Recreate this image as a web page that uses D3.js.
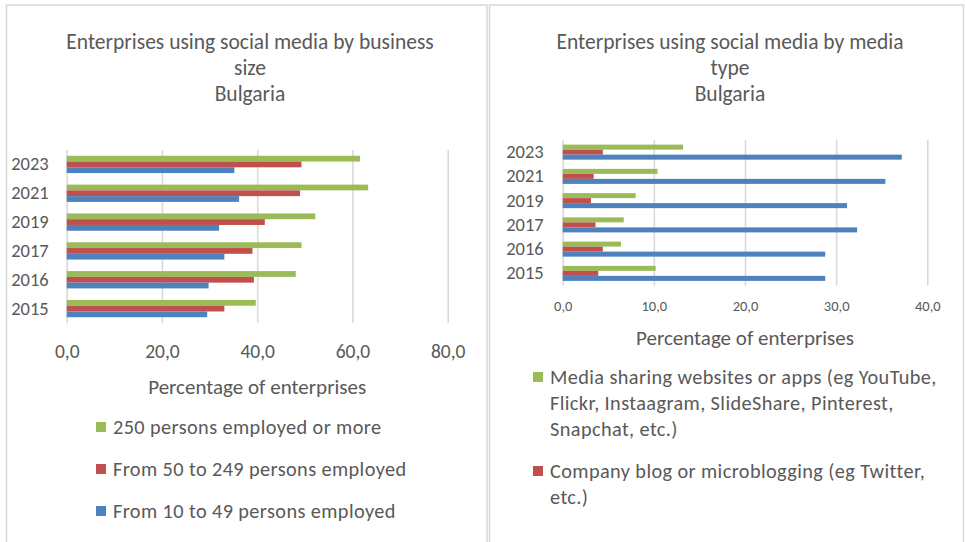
<!DOCTYPE html>
<html>
<head>
<meta charset="utf-8">
<script src="https://cdn.jsdelivr.net/npm/d3@7"></script>
<style>
  body { margin: 0; background: #fff; }
  text { font-family: Carlito, Calibri, Lato, sans-serif; fill: #595959; }
</style>
</head>
<body>
<svg id="chart" width="965" height="542"></svg>
<script>
// Survey years, top to bottom
const years = ["2023", "2021", "2019", "2017", "2016", "2015"];

// Share of enterprises using social media, by business size (%)
const sizeSeries = ["250 persons employed or more", "From 50 to 249 persons employed", "From 10 to 49 persons employed"];
const large  = [61.6, 63.3, 52.2, 49.3, 48.1, 39.7];
const medium = [49.3, 49.0, 41.6, 39.0, 39.3, 33.1];
const small  = [35.2, 36.2, 32.0, 33.1, 29.8, 29.5];

// Share of enterprises using social media, by media type (%)
const mediaSeries = [
  "Media sharing websites or apps (eg YouTube, Flickr, Instaagram, SlideShare, Pinterest, Snapchat, etc.)",
  "Company blog or microblogging (eg Twitter, etc.)"
];
const mediaSharing   = [13.2, 10.4, 8.0, 6.7, 6.4, 10.2];
const blogs          = [4.4, 3.4, 3.1, 3.6, 4.4, 3.9];
const socialNetworks = [37.2, 35.4, 31.2, 32.3, 28.8, 28.8];

const leftTicks  = [0, 20, 40, 60, 80];
const rightTicks = [0, 10, 20, 30, 40];

const colors = ["#9BBB59", "#C0504D", "#4F81BD"];
const fmt = v => d3.format(".1f")(v).replace(".", ",");

const svg = d3.select("#chart");
svg.append("rect").attr("width", 965).attr("height", 542).attr("fill", "#fff");

// panel frames
svg.append("rect").attr("x", 6.5).attr("y", 5).attr("width", 480.5).attr("height", 560)
  .attr("fill", "none").attr("stroke", "#d9d9d9").attr("stroke-width", 1.6);
svg.append("rect").attr("x", 489.5).attr("y", 5).attr("width", 474).attr("height", 560)
  .attr("fill", "none").attr("stroke", "#d9d9d9").attr("stroke-width", 1.6);

function drawPanel(cfg) {
  const g = svg.append("g");

  // title
  g.append("text")
    .attr("x", cfg.titleX).attr("y", 41)
    .attr("text-anchor", "middle")
    .style("font-size", "21.5px")
    .selectAll("tspan").data(cfg.title).join("tspan")
    .attr("x", cfg.titleX)
    .attr("dy", (d, i) => i === 0 ? "0.35em" : 26)
    .text(d => d);

  const x = d3.scaleLinear().domain(cfg.domain).range([cfg.left, cfg.right]);
  const y = d3.scaleBand().domain(years).range([cfg.top, cfg.bottom])
    .paddingInner(cfg.padInner).paddingOuter(cfg.padInner / 2);
  const inner = d3.scaleBand().domain(d3.range(cfg.series.length)).range([0, y.bandwidth()]);

  // gridlines
  const grid = g.append("g").attr("transform", `translate(0,${cfg.bottom})`)
    .call(d3.axisBottom(x).tickValues(cfg.ticks).tickSize(-(cfg.bottom - cfg.top)).tickFormat(""));
  grid.select(".domain").remove();
  grid.selectAll("line").attr("stroke", "#d9d9d9").attr("stroke-width", 1.6);

  // bars
  cfg.series.forEach((vals, si) => {
    g.append("g").selectAll("rect").data(vals).join("rect")
      .attr("x", x(0))
      .attr("y", (d, i) => y(years[i]) + inner(si))
      .attr("width", d => x(d) - x(0))
      .attr("height", inner.bandwidth())
      .attr("fill", colors[si]);
  });

  // value axis labels
  const xa = g.append("g").attr("transform", `translate(0,${cfg.bottom})`)
    .call(d3.axisBottom(x).tickValues(cfg.ticks).tickSize(0).tickPadding(cfg.tickPad).tickFormat(fmt));
  xa.select(".domain").remove();
  xa.selectAll("text").style("font-size", cfg.tickFont).attr("fill", "#595959")
    .style("font-family", "Carlito, Calibri, Lato, sans-serif");

  // category axis labels
  const ya = g.append("g").attr("transform", `translate(${cfg.left},0)`)
    .call(d3.axisLeft(y).tickSize(0).tickPadding(cfg.yPad));
  ya.select(".domain").remove();
  ya.selectAll("text").style("font-size", "18.5px").attr("fill", "#595959")
    .style("font-family", "Carlito, Calibri, Lato, sans-serif");

  // axis title
  g.append("text")
    .attr("x", (cfg.left + cfg.right) / 2).attr("y", cfg.axisTitleY)
    .attr("dy", "0.35em").attr("text-anchor", "middle")
    .style("font-size", "21px")
    .text("Percentage of enterprises");

  // legend
  let ly = cfg.legendY;
  cfg.legend.forEach((lines, li) => {
    g.append("rect")
      .attr("x", cfg.legendX).attr("y", ly - 5)
      .attr("width", 10).attr("height", 10)
      .attr("fill", colors[li]);
    g.append("text")
      .attr("x", cfg.legendX + 17).attr("y", ly)
      .style("font-size", "20.3px")
      .style("letter-spacing", "0.4px")
      .selectAll("tspan").data(lines).join("tspan")
      .attr("x", cfg.legendX + 17)
      .attr("dy", (d, i) => i === 0 ? "0.35em" : 26)
      .text(d => d);
    ly += (lines.length - 1) * 26 + cfg.legendGap;
  });
}

drawPanel({
  title: ["Enterprises using social media by business", "size", "Bulgaria"],
  titleX: 250,
  domain: [0, 80], left: 66.7, right: 447.7, top: 150, bottom: 323,
  padInner: 0.4,
  ticks: leftTicks, tickPad: 21, tickFont: "19.5px", yPad: 18,
  series: [large, medium, small],
  axisTitleY: 387,
  legend: sizeSeries.map(s => [s]),
  legendX: 96, legendY: 427, legendGap: 42
});

drawPanel({
  title: ["Enterprises using social media by media", "type", "Bulgaria"],
  titleX: 730,
  domain: [0, 40], left: 562.7, right: 927.3, top: 140, bottom: 285.5,
  padInner: 0.38,
  ticks: rightTicks, tickPad: 15, tickFont: "14.5px", yPad: 19,
  series: [mediaSharing, blogs, socialNetworks],
  axisTitleY: 338,
  legend: [
    ["Media sharing websites or apps (eg YouTube,", "Flickr, Instaagram, SlideShare, Pinterest,", "Snapchat, etc.)"],
    ["Company blog or microblogging (eg Twitter,", "etc.)"]
  ],
  legendX: 533, legendY: 377, legendGap: 42
});
</script>
</body>
</html>
